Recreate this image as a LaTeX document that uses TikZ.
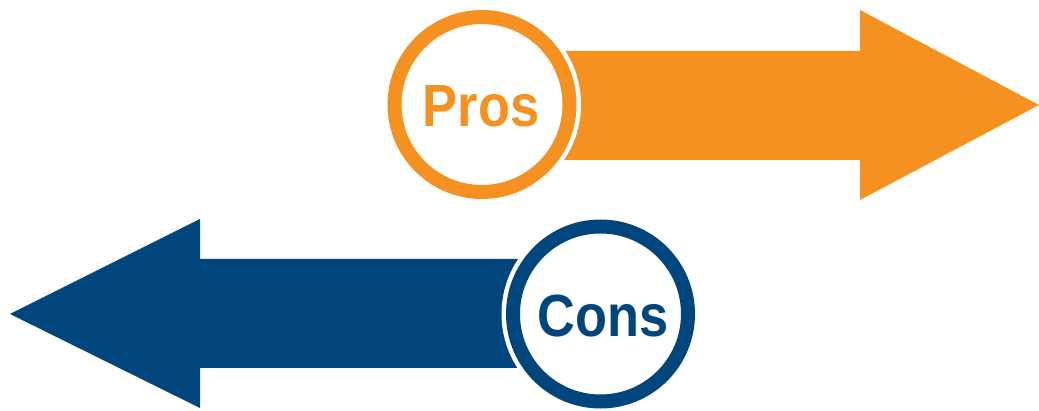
\documentclass[tikz,border=0pt]{standalone}
\usepackage{fontspec}
\setmainfont{Liberation Sans}
\definecolor{prosc}{HTML}{F59120}
\definecolor{consc}{HTML}{00457C}
\tikzset{
  x=1pt,y=-1pt,
  gap/.style={circle,fill=white,minimum size=198pt,inner sep=0pt,outer sep=0pt},
  ring/.style={circle,draw=#1,line width=14pt,fill=white,minimum size=175pt,inner sep=0pt,outer sep=0pt},
  lbl/.style={text=#1,anchor=base,inner sep=0pt,font=\fontsize{59.5}{59.5}\selectfont\bfseries,xscale=.88}
}
\begin{document}
\begin{tikzpicture}
\useasboundingbox (0,0) rectangle (1039,411);
\fill[prosc] (540,51) -- (860,51) -- (860,10) -- (1039,105) -- (860,200) -- (860,160) -- (540,160) -- cycle;
\fill[consc] (530,259) -- (200,259) -- (200,219) -- (10,314) -- (200,408) -- (200,368) -- (530,368) -- cycle;
\node[gap] (prosgap) at (482,104.5) {};
\node[ring=prosc] (prosring) at (482,104.5) {};
\node[lbl=prosc] (pros) at (481,126.5) {Pros};
\node[gap] (consgap) at (600.5,314) {};
\node[ring=consc] (consring) at (600.5,314) {};
\node[lbl=consc] (cons) at (603,336.5) {Cons};
\end{tikzpicture}
\end{document}
